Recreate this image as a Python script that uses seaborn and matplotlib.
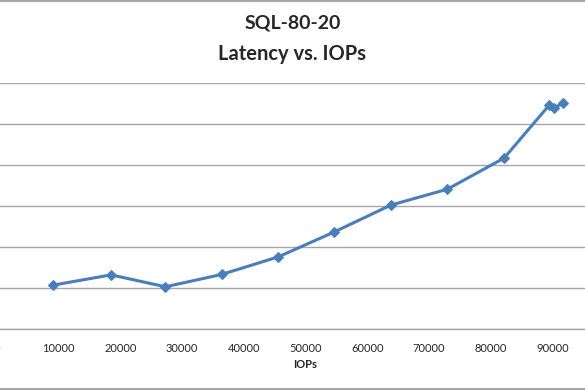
"""
SQL-80-20 latency vs IOPs
"""

from matplotlib import pyplot as plt
from matplotlib.lines import Line2D
import seaborn as sns

iops = [9100, 18500, 27300, 36400, 45600, 54700, 63800, 73000, 82200, 89500, 90200, 91800]
latency = [1.07, 1.32, 1.03, 1.33, 1.76, 2.37, 3.02, 3.41, 4.17, 5.46, 5.38, 5.52]
x_ticks = list(range(0, 90001, 10000))
y_ticks = [0, 1, 2, 3, 4, 5, 6]

LINE = "#4A7EBB"
GRID = "#A6A6A6"

sns.set_theme(style="white")
plt.rcParams["font.family"] = ["Lato", "DejaVu Sans"]

W, H = 585, 390
fig = plt.figure(figsize=(W / 100, H / 100), dpi=100)
# plot area is partly cut off on the left/right like the reference crop
ax = fig.add_axes([-3 / W, (H - 329) / H, 617 / W, (329 - 83) / H])

sns.lineplot(
    x=iops, y=latency, ax=ax, color=LINE, linewidth=2.2,
    marker="D", markersize=5.5, markeredgecolor=LINE, markerfacecolor=LINE,
    zorder=3,
)

ax.set_xlim(0, 100000)
ax.set_ylim(0, 6)
ax.set_xticks(x_ticks)
ax.set_xticklabels([str(v) for v in x_ticks], fontsize=8, color="#262626")
ax.set_yticks(y_ticks)
ax.tick_params(axis="y", left=False, labelleft=False)
ax.tick_params(axis="x", direction="out", length=4, width=0.8, color=GRID, pad=6)
ax.yaxis.grid(True, color=GRID, linewidth=1)
ax.xaxis.grid(False)
for side in ["top", "right", "left"]:
    ax.spines[side].set_visible(False)
ax.spines["bottom"].set_color(GRID)
ax.spines["bottom"].set_linewidth(1)
ax.set_xlabel("IOPs", fontsize=8, fontweight="bold", labelpad=4)
ax.set_ylabel("")

fig.text(0.5, 1 - 23 / H, "SQL-80-20", ha="center", va="center",
         fontsize=14, fontweight="bold")
fig.text(0.5, 1 - 54 / H, "Latency vs. IOPs", ha="center", va="center",
         fontsize=14.5, fontweight="bold")

# chart border lines (top and bottom visible in the crop)
fig.add_artist(Line2D([0, 1], [1 - 0.5 / H, 1 - 0.5 / H], color=GRID, linewidth=1.5))
fig.add_artist(Line2D([0, 1], [1.5 / H, 1.5 / H], color=GRID, linewidth=1.5))

fig.savefig("out.png", dpi=100)
